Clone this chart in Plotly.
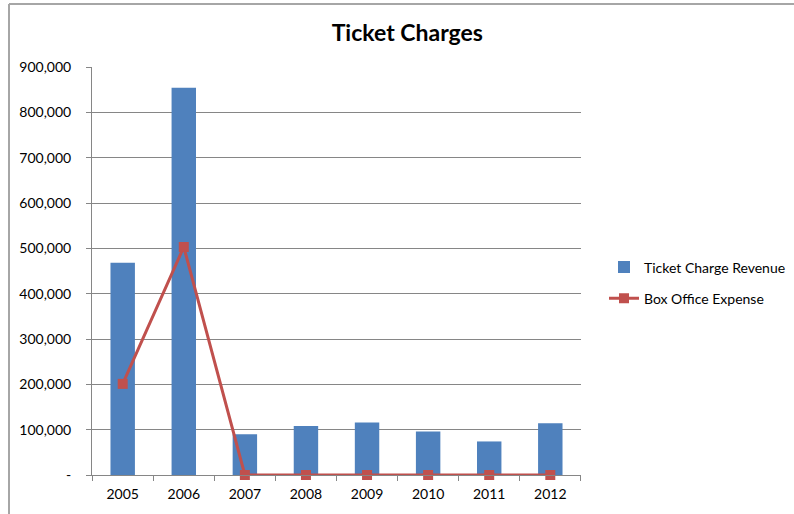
import plotly.graph_objects as go

years = ["2005", "2006", "2007", "2008", "2009", "2010", "2011", "2012"]
ticket_charge_revenue = [468000, 854000, 90000, 108000, 116000, 96000, 74000, 114000]
box_office_expense = [201000, 503000, 0, 0, 0, 0, 0, 0]
y_tick_vals = [0, 100000, 200000, 300000, 400000, 500000, 600000, 700000, 800000, 900000]
y_tick_text = ["-", "100,000", "200,000", "300,000", "400,000", "500,000",
               "600,000", "700,000", "800,000", "900,000"]

FONT = "Lato, 'Open Sans', sans-serif"

fig = go.Figure()
fig.add_trace(go.Bar(
    x=years, y=ticket_charge_revenue, name="Ticket Charge Revenue",
    marker=dict(color="#4F81BD", line=dict(width=0)),
    legendgroup="a",
))
fig.add_trace(go.Scatter(
    x=years, y=box_office_expense, name="Box Office Expense",
    mode="lines+markers",
    line=dict(color="#C0504D", width=3),
    marker=dict(symbol="square", size=10, color="#C0504D"),
    cliponaxis=False, legendgroup="b",
))

L, R, T, B = 92, 581, 67, 475
W, H = 794, 514

fig.update_layout(
    width=W, height=H,
    margin=dict(l=L, r=W - R, t=T, b=H - B, pad=0, autoexpand=False),
    paper_bgcolor="white", plot_bgcolor="white",
    font=dict(family=FONT, size=14, color="#000000"),
    bargap=0.6,
    title=dict(text="<b>Ticket Charges</b>", x=0.513, xref="container", xanchor="center",
               y=1 - 33 / H, yref="container", yanchor="middle",
               font=dict(size=23, family=FONT, color="#000000")),
    legend=dict(x=(604 - L) / (R - L), xanchor="left", y=(B - 283) / (B - T), yanchor="middle",
                font=dict(size=14, family=FONT), tracegroupgap=10, itemwidth=30,
                traceorder="grouped", bgcolor="rgba(0,0,0,0)"),
    showlegend=True,
)
fig.update_xaxes(
    type="category", showline=True, linecolor="#868686", linewidth=1,
    ticks="outside", tickson="boundaries", ticklen=5, tickcolor="#868686",
    showgrid=False, tickfont=dict(size=14), mirror=False, ticklabelstandoff=6,
)
fig.update_yaxes(
    range=[0, 900000], tickmode="array", tickvals=y_tick_vals, ticktext=y_tick_text,
    showline=True, linecolor="#868686", linewidth=1,
    ticks="outside", ticklen=5, tickcolor="#868686",
    showgrid=True, gridcolor="#868686", gridwidth=1, zeroline=False,
    tickfont=dict(size=14), ticklabelstandoff=12,
)

# outer chart border (partially visible)
bx = (9 - L) / (R - L)
by = (B - 4) / (B - T)
fig.add_shape(type="line", xref="paper", yref="paper", x0=bx, x1=bx, y0=-0.2, y1=by,
              line=dict(color="#A6A6A6", width=2))
fig.add_shape(type="line", xref="paper", yref="paper", x0=bx, x1=1.6, y0=by, y1=by,
              line=dict(color="#A6A6A6", width=2))

fig.write_html("out.html")
